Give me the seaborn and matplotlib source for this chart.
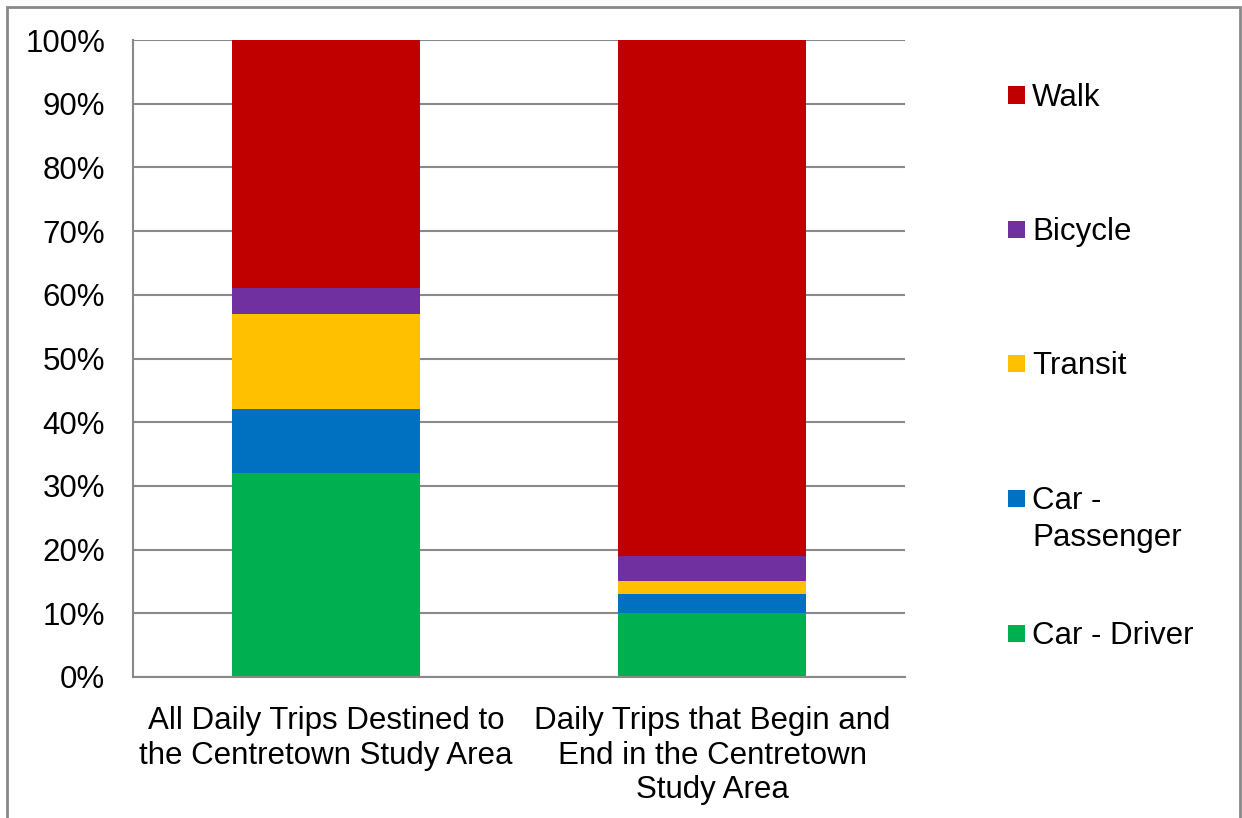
import matplotlib
matplotlib.use("Agg")
import matplotlib.pyplot as plt
from matplotlib.patches import Rectangle
import numpy as np
import pandas as pd
import seaborn as sns

categories = [
    "All Daily Trips Destined to\nthe Centretown Study Area",
    "Daily Trips that Begin and\nEnd in the Centretown\nStudy Area",
]
modes = ["Car - Driver", "Car - Passenger", "Transit", "Bicycle", "Walk"]
car_driver = [32, 10]
car_passenger = [10, 3]
transit = [15, 2]
bicycle = [4, 4]
walk = [39, 81]
colors = {
    "Car - Driver": "#00B050",
    "Car - Passenger": "#0070C0",
    "Transit": "#FFC000",
    "Bicycle": "#7030A0",
    "Walk": "#C00000",
}
legend_labels = {"Car - Passenger": ["Car -", "Passenger"]}

sns.set_theme(style="white")
plt.rcParams["font.family"] = ["Liberation Sans", "DejaVu Sans"]
plt.rcParams["text.color"] = "black"

FS = 22.5
W, H = 1242, 818

df = pd.DataFrame({
    "category": categories,
    "Car - Driver": car_driver,
    "Car - Passenger": car_passenger,
    "Transit": transit,
    "Bicycle": bicycle,
    "Walk": walk,
})
# cumulative totals, so each layer is drawn over the taller one behind it
cum = df[modes].cumsum(axis=1)

fig = plt.figure(figsize=(W / 100, H / 100), dpi=100)
ax = fig.add_axes([133 / W, 1 - 677 / H, (905 - 133) / W, (677 - 40) / H])
ax.set_axisbelow(True)

for mode in reversed(modes):
    sns.barplot(x=df["category"], y=cum[mode], color=colors[mode], width=0.485,
                saturation=1, linewidth=0, ax=ax, zorder=2)

ax.set_ylim(0, 100)
ax.set_yticks(np.arange(0, 101, 10))
ax.set_yticklabels([f"{v}%" for v in range(0, 101, 10)])
ax.yaxis.grid(True, color="#898989", linewidth=1.5)
ax.xaxis.grid(False)
ax.set_xlabel("")
ax.set_ylabel("")
ax.tick_params(axis="y", length=0, pad=20, labelsize=FS, colors="black")
ax.tick_params(axis="x", length=0, pad=21, labelsize=FS, colors="black")
for lbl in ax.get_xticklabels():
    lbl.set_linespacing(1.2)
    lbl.set_ha("center")

for side in ["top", "right"]:
    ax.spines[side].set_visible(False)
for side in ["left", "bottom"]:
    ax.spines[side].set_color("#898989")
    ax.spines[side].set_linewidth(1.5)

# legend column on the right: swatch + label, top entry = top layer of the stack
legend_rows = [95, 229, 363, 498, 633]   # pixel rows of each entry's first line
line_step = 37
text_shift = 3
sw = 17
for mode, row in zip(reversed(modes), legend_rows):
    fig.patches.append(Rectangle((1008 / W, 1 - (row + sw / 2) / H), sw / W, sw / H,
                                 transform=fig.transFigure, facecolor=colors[mode],
                                 edgecolor="none"))
    for i, line in enumerate(legend_labels.get(mode, [mode])):
        fig.text(1032 / W, 1 - (row + text_shift + i * line_step) / H, line,
                 fontsize=FS, ha="left", va="center", color="black")

fig.patches.append(Rectangle((7 / W, -0.05), (1240 - 7) / W, 1.05 - 7 / H,
                             transform=fig.transFigure, fill=False,
                             edgecolor="#898989", linewidth=2))

fig.savefig("out.png", dpi=100)
